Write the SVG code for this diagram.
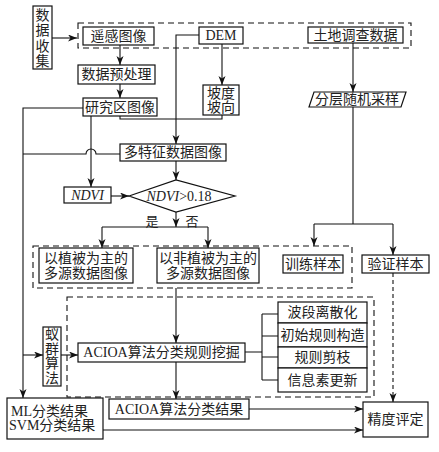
<svg xmlns="http://www.w3.org/2000/svg" width="439" height="452" viewBox="0 0 439 452">
<style>
text{font-family:"Liberation Serif","Noto Sans CJK SC",serif;font-size:14px;fill:#222;text-anchor:middle;dominant-baseline:central}
.b{fill:#fff;stroke:#111;stroke-width:1.2}
.d{fill:none;stroke:#111;stroke-width:1.1;stroke-dasharray:6 4}
.l{fill:none;stroke:#111;stroke-width:1.1}
.a{marker-end:url(#ah)}
.it{font-style:italic}
.st{text-anchor:start}
</style>
<defs>
<marker id="ah" markerUnits="userSpaceOnUse" markerWidth="10" markerHeight="8" refX="9" refY="3.5" orient="auto">
<path d="M0,0 L9,3.5 L0,7 L2.5,3.5 Z" fill="#111"/>
</marker>
</defs>
<rect width="439" height="452" fill="#fff"/>

<g id="groups">
<rect class="d" x="78" y="23" width="333" height="25"/>
<rect class="d" x="33" y="246" width="319" height="42"/>
<rect class="d" x="67" y="297" width="307" height="100"/>
</g>

<g id="connectors">
<path class="l a" d="M52,38 H77"/>
<path class="l a" d="M120,45 V65"/>
<path class="l a" d="M120,84 V98"/>
<path class="l a" d="M222,44 V85"/>
<path class="l a" d="M199,35 H176 V144"/>
<path class="l" d="M120,116 V119 H222 V115"/>
<path class="l a" d="M353,43 V92"/>
<path class="l a" d="M83,108 H23 V398"/>
<path class="l" d="M120,154 H96 A5,5 0 0 0 86,154 H23"/>
<path class="l a" d="M91,116 V187"/>
<path class="l a" d="M176,161 V180"/>
<path class="l a" d="M111,196 H129"/>
<path class="l a" d="M176,212 V227"/>
<path class="l" d="M102,227 H208"/>
<path class="l a" d="M102,227 V248"/>
<path class="l a" d="M208,227 V248"/>
<path class="l" d="M353,107 V224 M314,224 H393"/>
<path class="l a" d="M314,224 V246"/>
<path class="l a" d="M393,224 V255"/>
<path class="l a" d="M393,273 V402" stroke-dasharray="4 3"/>
<path class="l a" d="M176,288 V343"/>
<path class="l a" d="M23,355 H43"/>
<path class="l a" d="M61,355 H78"/>
<path class="l a" d="M176,362 V399"/>
<path class="l" d="M245,352 H262 M262,314 V380 M262,314 H278 M262,336 H278 M262,357 H278 M262,380 H278"/>
<path class="l a" d="M249,409 H363"/>
<path class="l a" d="M103,430 H363"/>
</g>

<g id="n-collect">
<rect class="b" x="33" y="6" width="19" height="63"/>
<text x="42.5" y="15">数</text><text x="42.5" y="30.5">据</text><text x="42.5" y="46">收</text><text x="42.5" y="61.5">集</text>
</g>
<g id="n-rs"><rect class="b" x="83" y="27" width="71" height="18"/><text x="118.5" y="36">遥感图像</text></g>
<g id="n-dem"><rect class="b" x="199" y="27" width="44" height="17"/><text x="221" y="35.5">DEM</text></g>
<g id="n-land"><rect class="b" x="308" y="27" width="95" height="16"/><text x="355.5" y="35">土地调查数据</text></g>
<g id="n-pre"><rect class="b" x="78" y="65" width="77" height="19"/><text x="116.5" y="74.5">数据预处理</text></g>
<g id="n-study"><rect class="b" x="83" y="98" width="74" height="18"/><text x="120" y="107">研究区图像</text></g>
<g id="n-slope"><rect class="b" x="203" y="85" width="36" height="30"/><text x="221" y="93">坡度</text><text x="221" y="107">坡向</text></g>
<g id="n-strat"><polygon class="b" points="314,92 406,92 401,107 309,107"/><text x="357" y="99.5">分层随机采样</text></g>
<g id="n-multi"><rect class="b" x="120" y="144" width="106" height="17"/><text x="173" y="152.5">多特征数据图像</text></g>
<g id="n-ndvi"><rect class="b" x="64" y="187" width="47" height="16"/><text class="it" x="87.5" y="195">NDVI</text></g>
<g id="n-cond"><polygon class="b" points="129,196 176,180 235,196 176,212"/><text x="179" y="196"><tspan class="it">NDVI</tspan>&gt;0.18</text></g>
<g id="n-labels"><text x="152" y="221" style="font-size:13px">是</text><text x="192" y="221" style="font-size:13px">否</text></g>
<g id="n-veg"><rect class="b" x="39" y="248" width="94" height="35"/><text x="86" y="258">以植被为主的</text><text x="86" y="273.5">多源数据图像</text></g>
<g id="n-nonveg"><rect class="b" x="157" y="248" width="102" height="35"/><text x="208" y="258">以非植被为主的</text><text x="208" y="273.5">多源数据图像</text></g>
<g id="n-train"><rect class="b" x="283" y="255" width="60" height="18"/><text x="313" y="264">训练样本</text></g>
<g id="n-valid"><rect class="b" x="362" y="255" width="67" height="18"/><text x="395.5" y="264">验证样本</text></g>
<g id="n-ant"><rect class="b" x="43" y="327" width="18" height="59"/>
<text x="52" y="334.5">蚁</text><text x="52" y="349">群</text><text x="52" y="363.5">算</text><text x="52" y="378">法</text></g>
<g id="n-mine"><rect class="b" x="78" y="343" width="167" height="19"/><text x="161.5" y="352.5">ACIOA算法分类规则挖掘</text></g>
<g id="n-steps">
<rect class="b" x="278" y="302" width="89" height="21"/><text x="322.5" y="312.5">波段离散化</text>
<rect class="b" x="278" y="323" width="89" height="24"/><text x="322.5" y="335">初始规则构造</text>
<rect class="b" x="278" y="347" width="89" height="21"/><text x="322.5" y="357.5">规则剪枝</text>
<rect class="b" x="278" y="368" width="89" height="24"/><text x="322.5" y="380">信息素更新</text>
</g>
<g id="n-mlsvm"><rect class="b" x="7" y="398" width="96" height="41"/><text class="st" x="11" y="411">ML分类结果</text><text class="st" x="9" y="425.5">SVM分类结果</text></g>
<g id="n-acres"><rect class="b" x="109" y="399" width="140" height="20"/><text x="179" y="409">ACIOA算法分类结果</text></g>
<g id="n-acc"><rect class="b" x="363" y="402" width="65" height="35"/><text x="395.5" y="419.5">精度评定</text></g>
</svg>
